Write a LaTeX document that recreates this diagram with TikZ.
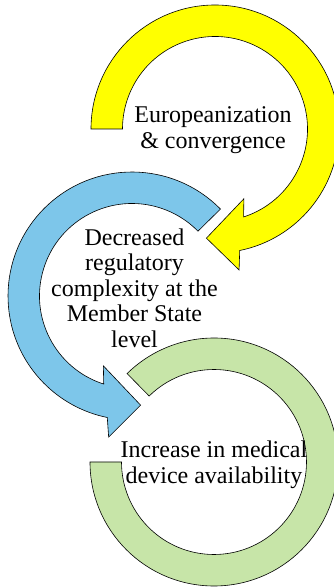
\documentclass[tikz,border=0pt]{standalone}
\usepackage{fontspec}
\setmainfont{Liberation Serif}
\usepackage{tikz}
\usetikzlibrary{calc}

\definecolor{ringyellow}{RGB}{255,255,0}
\definecolor{ringblue}{RGB}{125,198,234}
\definecolor{ringgreen}{RGB}{199,229,168}

\begin{document}
\begin{tikzpicture}[x=1pt, y=1pt, ring/.style={draw=black, line width=0.6pt, line join=miter}, ringtext/.style={align=center, inner sep=0pt, font=\fontsize{24}{25.5}\selectfont}]
			\useasboundingbox (0,0) rectangle (334,587);
			\clip (0,0) rectangle (334,587);

			\coordinate (cY) at (215,458);
			\coordinate (cB) at (132,291);
			\coordinate (cG) at (214,125);

			%yellow: clockwise, ends in a head at the bottom
			\draw[ring, fill=ringyellow] ($(cY)+(180:124)$) arc[start angle=180, end angle=-78.5, radius=124]
				-- ($(cY)+(-80.3:143)$) -- ($(cY)+(-94.5:109.5)$) -- ($(cY)+(-67.5:75.5)$)
				-- ($(cY)+(-72:92.5)$) arc[start angle=-72, end angle=180, radius=92.5] -- cycle;

			%blue: counter clockwise, head at the bottom
			\draw[ring, fill=ringblue] ($(cB)+(44.5:124)$) arc[start angle=44.5, end angle=258.5, radius=124]
				-- ($(cB)+(260.6:143)$) -- ($(cB)+(274.5:109.5)$) -- ($(cB)+(247.7:75.5)$)
				-- ($(cB)+(252.2:92.5)$) arc[start angle=252.2, end angle=44.5, radius=92.5] -- cycle;

			%green: open ring, no head
			\draw[ring, fill=ringgreen] ($(cG)+(180:124)$) arc[start angle=180, end angle=494.5, radius=124]
				-- ($(cG)+(494.5:92.5)$) arc[start angle=494.5, end angle=180, radius=92.5] -- cycle;

			\node[ringtext] (europe) at (213,457) {Europeanization\\\& convergence};
			\node[ringtext] (complexity) at (134.5,299) {Decreased\\regulatory\\complexity at the\\Member State\\level};
			\node[ringtext] (availability) at (214,122) {Increase in medical\\device availability};
		\end{tikzpicture}
\end{document}
